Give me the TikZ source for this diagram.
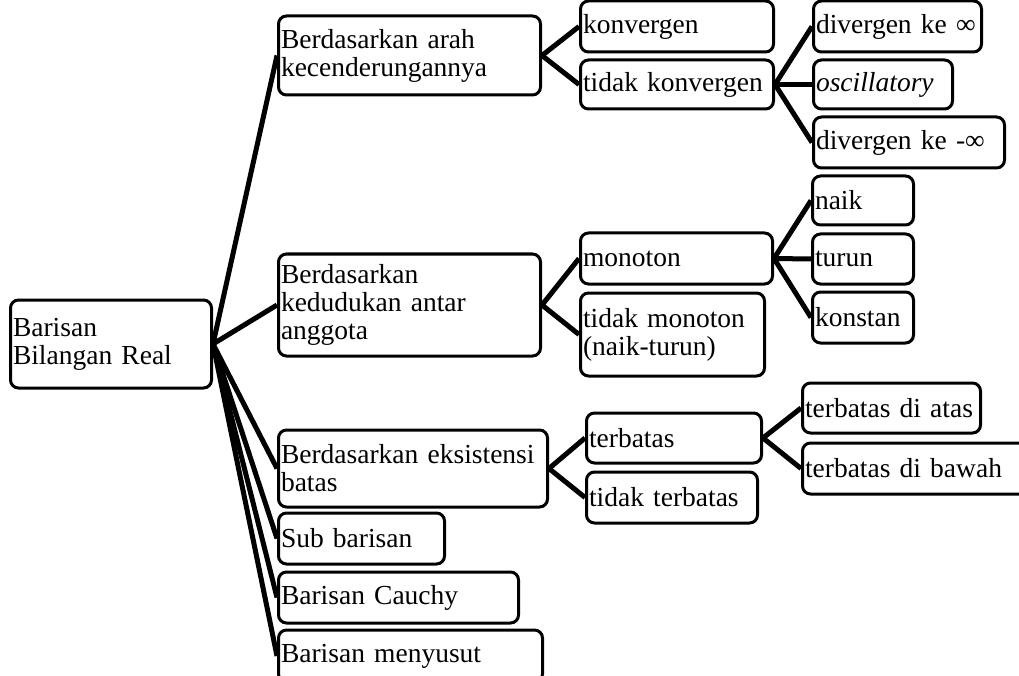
\documentclass[tikz,border=0pt]{standalone}
\usepackage{fontspec}
\setmainfont{Liberation Serif}
\usepackage{tikz}
\newcommand{\hurufkotak}{\fontsize{27.5}{28}\selectfont}
\tikzset{
    kotak/.style={draw, line width=3pt, rounded corners=8pt, anchor=west, align=left,
        inner xsep=2.5pt, inner ysep=0pt, font=\hurufkotak},
    cabang/.style={line width=5pt}
}

\begin{document}
\begin{tikzpicture}[x=1pt, y=-1pt]
    \useasboundingbox (0,0) rectangle (1019,676);

    % akar
    \node[kotak, text width=196pt, minimum height=88pt] (akar) at (9,344) {Barisan\\Bilangan Real};

    % tingkat pertama
    \node[kotak, text width=257pt, minimum height=79pt] (arah) at (277,55.5) {Berdasarkan arah\\kecenderungannya};
    \node[kotak, text width=257pt, minimum height=102pt] (kedudukan) at (277,305) {Berdasarkan\\kedudukan antar\\anggota};
    \node[kotak, text width=264pt, minimum height=77pt] (batas) at (277,468.5) {Berdasarkan eksistensi\\batas};
    \node[kotak, text width=161pt, minimum height=51pt] (sub) at (277,538.5) {Sub barisan};
    \node[kotak, text width=235pt, minimum height=51pt] (cauchy) at (277,597.5) {Barisan Cauchy};
    \node[kotak, text width=259pt, minimum height=52pt] (menyusut) at (277,656) {Barisan menyusut};

    % arah kecenderungan
    \node[kotak, text width=188pt, minimum height=51pt] (konv) at (579,26.5) {konvergen};
    \node[kotak, text width=188pt, minimum height=49pt] (tkonv) at (579,84.5) {tidak konvergen};
    \node[kotak, text width=163pt, minimum height=51pt] (divplus) at (812,26.5) {divergen ke ∞};
    \node[kotak, text width=134pt, minimum height=49pt] (osc) at (812,84.5) {\textit{oscillatory}};
    \node[kotak, text width=186pt, minimum height=51pt] (divmin) at (812,142.5) {divergen ke -∞};

    % kedudukan antar anggota
    \node[kotak, text width=187pt, minimum height=51pt] (mon) at (579,258.5) {monoton};
    \node[kotak, text width=179pt, minimum height=83pt] (tmon) at (579,334.5) {tidak monoton\\(naik-turun)};
    \node[kotak, text width=96pt, minimum height=49pt] (naik) at (811,200.5) {naik};
    \node[kotak, text width=96pt, minimum height=50pt] (turun) at (811,259) {turun};
    \node[kotak, text width=96pt, minimum height=51pt] (konst) at (811,317.5) {konstan};

    % eksistensi batas
    \node[kotak, text width=170pt, minimum height=50pt] (terb) at (585,438) {terbatas};
    \node[kotak, text width=166pt, minimum height=51pt] (tterb) at (585,497.5) {tidak terbatas};
    \node[kotak, text width=173pt, minimum height=50pt] (atas) at (801,408) {terbatas di atas};
    \node[kotak, text width=224pt, minimum height=51pt] (bawah) at (801,468.5) {terbatas di bawah};

    % garis cabang
    \foreach \anak in {arah, kedudukan, batas, sub, cauchy, menyusut}
        \draw[cabang] (akar.east) -- (\anak.west);
    \foreach \anak in {konv, tkonv}
        \draw[cabang] (arah.east) -- (\anak.west);
    \foreach \anak in {divplus, osc, divmin}
        \draw[cabang] (tkonv.east) -- (\anak.west);
    \foreach \anak in {mon, tmon}
        \draw[cabang] (kedudukan.east) -- (\anak.west);
    \foreach \anak in {naik, turun, konst}
        \draw[cabang] (mon.east) -- (\anak.west);
    \foreach \anak in {terb, tterb}
        \draw[cabang] (batas.east) -- (\anak.west);
    \foreach \anak in {atas, bawah}
        \draw[cabang] (terb.east) -- (\anak.west);
\end{tikzpicture}
\end{document}
